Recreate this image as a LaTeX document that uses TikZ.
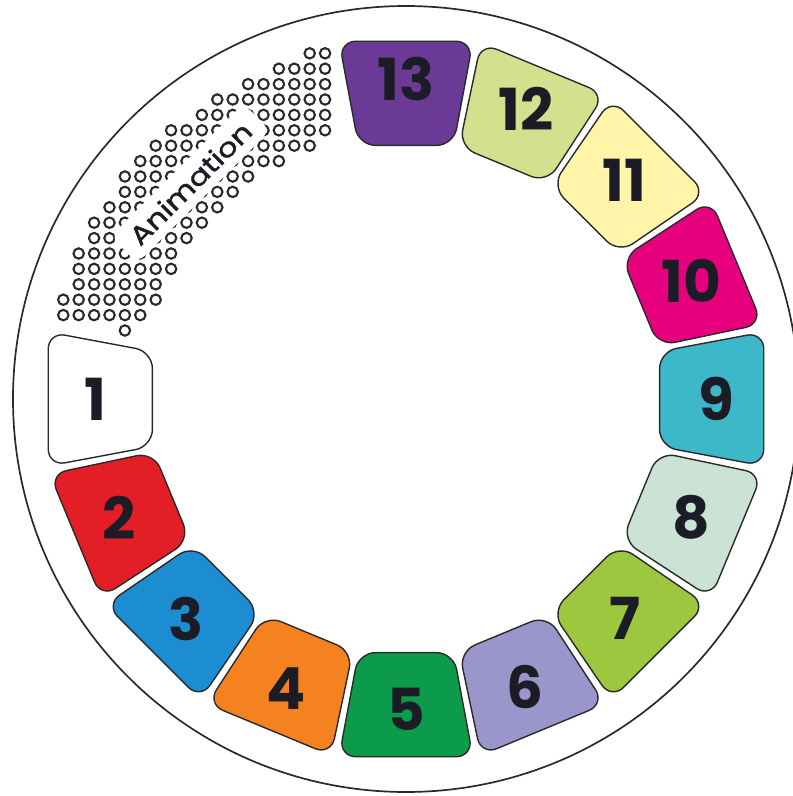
\documentclass[tikz,border=0pt]{standalone}
\usepackage{fontspec}
\usepackage{graphicx}
\setmainfont{Poppins}
\newfontfamily\animfont[FakeBold=1.3]{Poppins}
\definecolor{c1}{HTML}{FFFFFF}
\definecolor{c2}{HTML}{E41E26}
\definecolor{c3}{HTML}{1B8DD0}
\definecolor{c4}{HTML}{F58220}
\definecolor{c5}{HTML}{0B9B4A}
\definecolor{c6}{HTML}{9A95CB}
\definecolor{c7}{HTML}{9DC73E}
\definecolor{c8}{HTML}{CBE3D4}
\definecolor{c9}{HTML}{3DB8C9}
\definecolor{c10}{HTML}{E6007E}
\definecolor{c11}{HTML}{FFF4A8}
\definecolor{c12}{HTML}{D5E08F}
\definecolor{c13}{HTML}{6B3A96}
\definecolor{ink}{HTML}{1C1C26}
\definecolor{linegray}{HTML}{2A2A2A}
\tikzset{
  segbox/.style={draw=linegray, line width=1.4pt, rounded corners=17pt, line join=round},
  numtext/.style={text=ink, font=\bfseries\fontsize{58}{58}\selectfont, inner sep=0pt},
  dotc/.style={draw=linegray, line width=2.1pt},
  labelbox/.style={fill=white, rounded corners=10pt, minimum width=188pt, minimum height=38pt,
    inner sep=0pt, text=ink, font=\animfont\fontsize{26}{26}\selectfont},
  rim/.style={draw=linegray, line width=1.7pt}
}
\begin{document}
\begin{tikzpicture}[x=1pt,y=1pt]
\useasboundingbox (-406,-397) rectangle (387,399);
\clip (-406,-397) rectangle (387,399);
% outer rim
\draw[rim] (0,0) circle[radius=393];
% dot pattern
\foreach \k in {0,...,17}{
  \foreach \j in {0,...,17}{
    \pgfmathsetmacro\Xs{(-342.7+15.4*\k)/100}
    \pgfmathsetmacro\Ys{(345.7-15.4*\j)/100}
    \pgfmathsetmacro\Rr{100*sqrt(\Xs*\Xs+\Ys*\Ys)}
    \ifdim \Rr pt>268pt
      \ifdim \Rr pt<359pt
        \draw[dotc] ({100*\Xs},{100*\Ys}) circle[radius=5.2];
      \fi
    \fi
  }
}
\draw[dotc] (-281.1,68.5) circle[radius=5.2];
% label
\node[labelbox, rotate=45] (anim) at (135:305) {\scalebox{1.2}[1]{Animation}};
% segments
\foreach \n/\c/\r in {1/c1/311,2/c2/311,3/c3/311,4/c4/313,5/c5/310,6/c6/312,7/c7/310,8/c8/309,9/c9/310,10/c10/309,11/c11/309,12/c12/314,13/c13/320}{
  \pgfmathsetmacro\a{180+22.5*(\n-1)}
  \path[segbox, fill=\c] ({\a-10.6}:364) -- ({\a+10.6}:364) -- ({\a+10.6}:258) -- ({\a-10.6}:258) -- cycle;
  \node[numtext] (n\n) at (\a:\r) {\n};
}
\end{tikzpicture}
\end{document}
